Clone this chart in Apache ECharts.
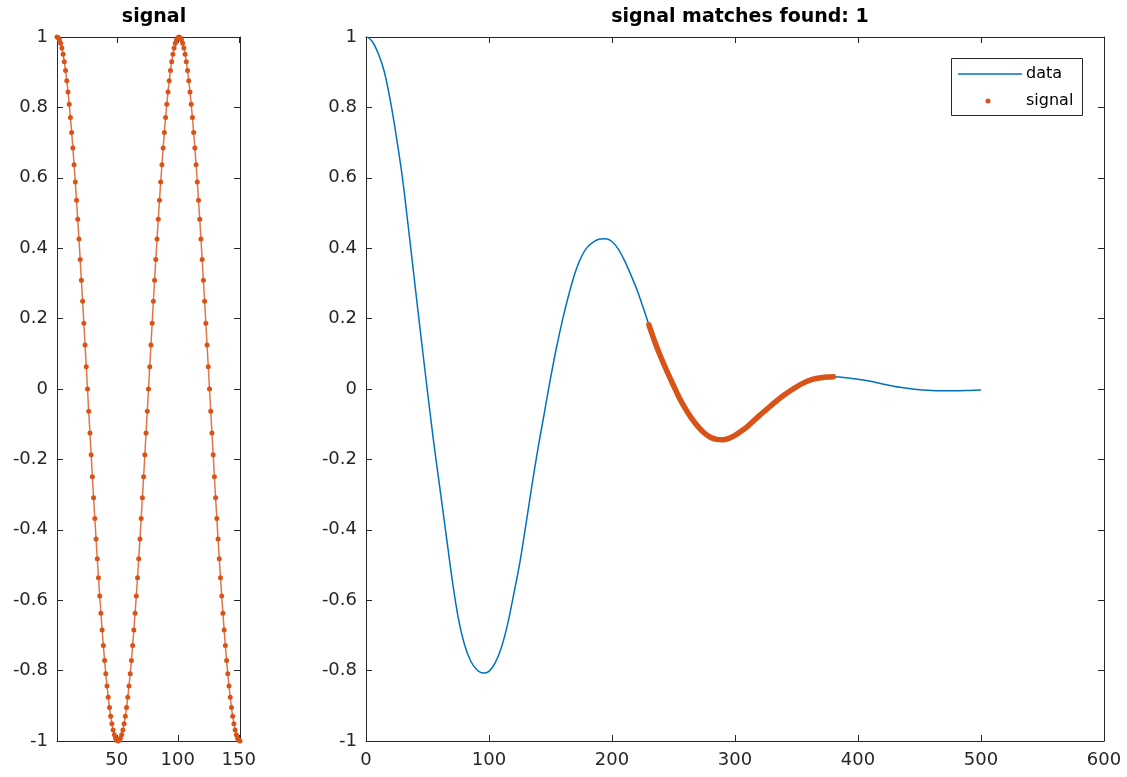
<!DOCTYPE html>
<html>
<head>
<meta charset="utf-8">
<script src="https://cdn.jsdelivr.net/npm/echarts@6/dist/echarts.min.js"></script>
<style>
html,body{margin:0;padding:0;background:#fff;}
#chart{width:1127px;height:777px;}
</style>
</head>
<body>
<div id="chart"></div>
<script>
// Left panel: signal samples at x = 1..151
const signalValues = [
 1.000, 0.998, 0.992, 0.982, 0.969, 0.951, 0.930, 0.905, 0.876, 0.844,
 0.809, 0.771, 0.729, 0.685, 0.637, 0.588, 0.536, 0.482, 0.426, 0.368,
 0.309, 0.249, 0.187, 0.125, 0.063, 0.000,-0.063,-0.125,-0.187,-0.249,
-0.309,-0.368,-0.426,-0.482,-0.536,-0.588,-0.637,-0.685,-0.729,-0.771,
-0.809,-0.844,-0.876,-0.905,-0.930,-0.951,-0.969,-0.982,-0.992,-0.998,
-1.000,-0.998,-0.992,-0.982,-0.969,-0.951,-0.930,-0.905,-0.876,-0.844,
-0.809,-0.771,-0.729,-0.685,-0.637,-0.588,-0.536,-0.482,-0.426,-0.368,
-0.309,-0.249,-0.187,-0.125,-0.063, 0.000, 0.063, 0.125, 0.187, 0.249,
 0.309, 0.368, 0.426, 0.482, 0.536, 0.588, 0.637, 0.685, 0.729, 0.771,
 0.809, 0.844, 0.876, 0.905, 0.930, 0.951, 0.969, 0.982, 0.992, 0.998,
 1.000, 0.998, 0.992, 0.982, 0.969, 0.951, 0.930, 0.905, 0.876, 0.844,
 0.809, 0.771, 0.729, 0.685, 0.637, 0.588, 0.536, 0.482, 0.426, 0.368,
 0.309, 0.249, 0.187, 0.125, 0.063, 0.000,-0.063,-0.125,-0.187,-0.249,
-0.309,-0.368,-0.426,-0.482,-0.536,-0.588,-0.637,-0.685,-0.729,-0.771,
-0.809,-0.844,-0.876,-0.905,-0.930,-0.951,-0.969,-0.982,-0.992,-0.998,
-1.000
];
const signalStartX = 1;
const leftXTicks = [50, 100, 150];

// Right panel: data curve
const dataX = [1,5,10,15,20,25,30,35,40,45,50,55,60,65,70,75,80,85,90,95,100,
  105,110,115,120,125,130,135,140,145,150,155,160,165,170,175,180,185,190,195,200,
  205,210,215,220,225,230,235,240,245,250,255,260,265,270,275,280,285,290,295,300,
  305,310,315,320,325,330,335,340,345,350,355,360,365,370,375,380,385,390,395,400,
  410,420,430,440,450,460,470,480,490,500];
const dataY = [1.000,0.988,0.953,0.900,0.815,0.710,0.590,0.442,0.290,0.140,-0.008,
  -0.150,-0.280,-0.410,-0.540,-0.650,-0.725,-0.772,-0.797,-0.807,-0.802,
  -0.778,-0.735,-0.670,-0.585,-0.495,-0.385,-0.272,-0.165,-0.068,0.030,
  0.120,0.200,0.270,0.330,0.375,0.403,0.418,0.426,0.427,0.419,
  0.398,0.366,0.327,0.285,0.235,0.182,0.132,0.088,0.048,0.010,
  -0.027,-0.058,-0.085,-0.107,-0.125,-0.137,-0.143,-0.144,-0.140,-0.132,
  -0.120,-0.107,-0.091,-0.075,-0.060,-0.045,-0.030,-0.017,-0.005,0.006,
  0.016,0.024,0.029,0.032,0.034,0.035,0.034,0.032,0.030,0.028,
  0.022,0.014,0.007,0.002,-0.002,-0.004,-0.005,-0.005,-0.004,-0.003];
const matchStart = 230, matchEnd = 380;
const matchCount = 1;

const BLUE = '#0072BD', ORANGE = '#D95319', AX = '#262626';
const FONT = '"DejaVu Sans", "Liberation Sans", Arial, sans-serif';

const leftData = signalValues.map((v, i) => [signalStartX + i, v]);
const rightData = dataX.map((x, i) => [x, dataY[i]]);
const matchData = rightData.filter(p => p[0] >= matchStart && p[0] <= matchEnd);

const axisBase = {
  axisLine: {show: true, onZero: false, lineStyle: {color: AX, width: 1}},
  axisTick: {show: true, inside: true, length: 6, lineStyle: {color: AX}},
  splitLine: {show: false},
  axisLabel: {color: AX, fontSize: 18, fontFamily: FONT}
};
function ax(extra) { return Object.assign({}, JSON.parse(JSON.stringify(axisBase)), extra); }

const option = {
  backgroundColor: '#fff',
  animation: false,
  title: [
    {text: 'signal', left: 149, top: 3, textAlign: 'center',
     textStyle: {fontSize: 19, fontWeight: 'bold', color: '#000', fontFamily: FONT}},
    {text: 'signal matches found: ' + matchCount, left: 735, top: 3, textAlign: 'center',
     textStyle: {fontSize: 19, fontWeight: 'bold', color: '#000', fontFamily: FONT}}
  ],
  grid: [
    {left: 57, top: 37, width: 183, height: 704, containLabel: false},
    {left: 366, top: 37, width: 738, height: 704, containLabel: false}
  ],
  xAxis: [
    ax({type: 'value', gridIndex: 0, min: 1, max: 151, position: 'bottom',
        axisLabel: {color: AX, fontSize: 18, fontFamily: FONT, margin: 10, customValues: leftXTicks},
        axisTick: {show: true, inside: true, length: 6, lineStyle: {color: AX}, customValues: leftXTicks}}),
    ax({type: 'value', gridIndex: 1, min: 0, max: 600, interval: 100, position: 'bottom',
        axisLabel: {color: AX, fontSize: 18, fontFamily: FONT, margin: 10}}),
    ax({type: 'value', gridIndex: 0, min: 1, max: 151, position: 'top',
        axisLabel: {show: false},
        axisTick: {show: true, inside: true, length: 6, lineStyle: {color: AX}, customValues: leftXTicks}}),
    ax({type: 'value', gridIndex: 1, min: 0, max: 600, interval: 100, position: 'top',
        axisLabel: {show: false}})
  ],
  yAxis: [
    ax({type: 'value', gridIndex: 0, min: -1, max: 1, interval: 0.2, position: 'left',
        axisLabel: {color: AX, fontSize: 18, fontFamily: FONT, margin: 9}}),
    ax({type: 'value', gridIndex: 1, min: -1, max: 1, interval: 0.2, position: 'left',
        axisLabel: {color: AX, fontSize: 18, fontFamily: FONT, margin: 9}}),
    ax({type: 'value', gridIndex: 0, min: -1, max: 1, interval: 0.2, position: 'right',
        axisLabel: {show: false}}),
    ax({type: 'value', gridIndex: 1, min: -1, max: 1, interval: 0.2, position: 'right',
        axisLabel: {show: false}})
  ],
  series: [
    {name: 'signalLeft', type: 'line', xAxisIndex: 0, yAxisIndex: 0, data: leftData,
     symbol: 'circle', symbolSize: 5, showAllSymbol: true,
     itemStyle: {color: ORANGE}, lineStyle: {color: ORANGE, width: 1.5, opacity: 0.8}},
    {name: 'data', type: 'line', xAxisIndex: 1, yAxisIndex: 1, data: rightData,
     smooth: 0.3, symbol: 'none', lineStyle: {color: BLUE, width: 1.5}},
    {name: 'signal', type: 'line', xAxisIndex: 1, yAxisIndex: 1, data: matchData,
     smooth: 0.3, symbol: 'none', lineStyle: {color: ORANGE, width: 5.5, cap: 'round'}}
  ],
  graphic: [
    {type: 'rect', shape: {x: 951.5, y: 58.5, width: 131, height: 57},
     style: {fill: '#fff', stroke: AX, lineWidth: 1}, z: 100},
    {type: 'line', shape: {x1: 958, y1: 74, x2: 1022, y2: 74},
     style: {stroke: BLUE, lineWidth: 1.5}, z: 101},
    {type: 'circle', shape: {cx: 988, cy: 101, r: 2.5},
     style: {fill: ORANGE}, z: 101},
    {type: 'text', x: 1026, y: 74, style: {text: 'data', fill: '#000', fontSize: 16, fontFamily: FONT, verticalAlign: 'middle'}, z: 101},
    {type: 'text', x: 1026, y: 101, style: {text: 'signal', fill: '#000', fontSize: 16, fontFamily: FONT, verticalAlign: 'middle'}, z: 101}
  ]
};

const chart = echarts.init(document.getElementById('chart'), null, {renderer: 'canvas'});
chart.setOption(option);
</script>
</body>
</html>
